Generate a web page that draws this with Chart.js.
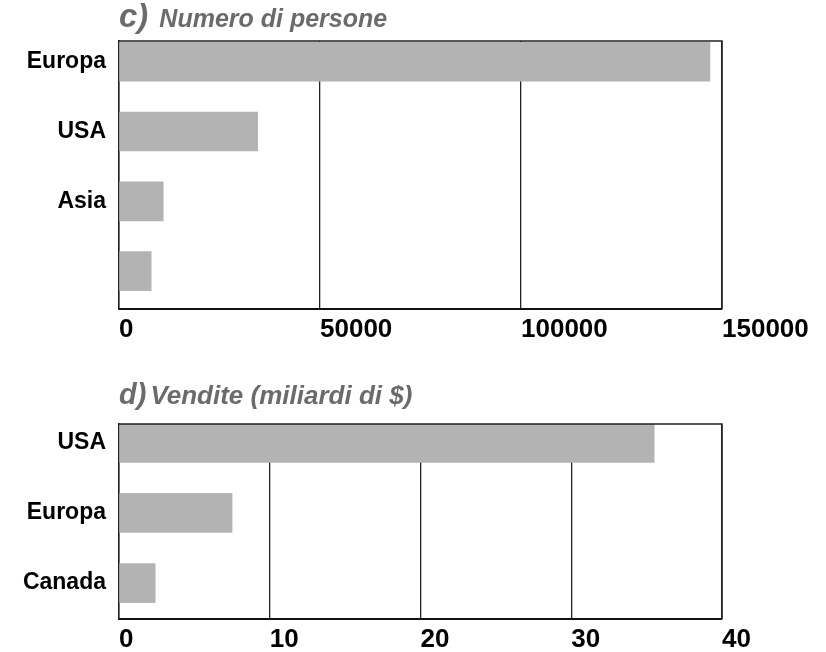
<!DOCTYPE html>
<html>
<head>
<meta charset="utf-8">
<script src="https://cdn.jsdelivr.net/npm/chart.js@4"></script>
<style>
  body { margin: 0; background: #fff; }
  #wrap { position: relative; width: 826px; height: 652px; overflow: hidden; }
  .box { position: absolute; left: 0; width: 826px; }
  .title {
    position: absolute; left: 119px; white-space: nowrap;
    font-family: "Liberation Sans", Arial, sans-serif;
    font-weight: bold; font-style: italic; color: #6b6b6b;
    font-size: 25px; line-height: 1;
  }
  .title .tag { font-size: 33px; margin-right: 11px; }
  .title.sales { font-size: 26px; }
  .title.sales .tag { font-size: 29px; margin-right: 4px; }
</style>
</head>
<body>
<div id="wrap">
  <div class="box" style="top:0;height:352px"><canvas id="chart-c"></canvas></div>
  <div class="box" style="top:352px;height:300px"><canvas id="chart-d"></canvas></div>
  <div class="title" style="top:-1px"><span class="tag">c)</span>Numero di persone</div>
  <div class="title sales" style="top:380px"><span class="tag">d)</span>Vendite (miliardi di $)</div>
</div>
<script>
// c) Numero di persone
const peopleRegions = ["Europa", "USA", "Asia", ""];
const peopleCounts = [147000, 34500, 11000, 8000];
const peopleTicks = [0, 50000, 100000, 150000];

// d) Vendite (miliardi di $)
const salesRegions = ["USA", "Europa", "Canada"];
const salesValues = [35.5, 7.5, 2.4];
const salesTicks = [0, 10, 20, 30, 40];

const BAR = "#b3b3b3";
const FONT = "'Liberation Sans', Arial, sans-serif";

// top and right edge of the box
const frame = {
  id: "frame",
  afterDatasetsDraw(chart) {
    const { ctx, chartArea: a } = chart;
    ctx.save();
    ctx.strokeStyle = "#222";
    ctx.lineWidth = 1.5;
    ctx.beginPath();
    ctx.moveTo(a.left, a.top);
    ctx.lineTo(a.right, a.top);
    ctx.lineTo(a.right, a.bottom);
    ctx.stroke();
    ctx.restore();
  }
};

function makeChart(id, labels, values, ticks, yMin, yMax, padTop, xHeight) {
  return new Chart(document.getElementById(id), {
    type: "bar",
    data: {
      datasets: [{
        data: values.map((v, i) => ({ x: v, y: i })),
        backgroundColor: BAR,
        barThickness: 39
      }]
    },
    options: {
      indexAxis: "y",
      responsive: true,
      maintainAspectRatio: false,
      animation: false,
      layout: { padding: { top: padTop, right: 104, bottom: 0, left: 0 } },
      plugins: { legend: { display: false }, tooltip: { enabled: false } },
      scales: {
        x: {
          type: "linear",
          min: ticks[0],
          max: ticks[ticks.length - 1],
          afterBuildTicks: s => { s.ticks = ticks.map(v => ({ value: v })); },
          afterFit: s => { s.height = xHeight; },
          ticks: {
            align: "start", padding: 5, color: "#000",
            font: { family: FONT, size: 26, weight: "bold" },
            callback: v => String(v)
          },
          grid: { color: "#222", lineWidth: 1.3, drawTicks: false },
          border: { color: "#111", width: 2 }
        },
        y: {
          type: "linear",
          offset: false,
          reverse: true,
          min: yMin,
          max: yMax,
          afterBuildTicks: s => { s.ticks = labels.map((_, i) => ({ value: i })); },
          afterFit: s => { s.width = 119; },
          ticks: {
            padding: 13, color: "#000",
            font: { family: FONT, size: 23, weight: "bold" },
            callback: v => labels[v]
          },
          grid: { display: false, drawTicks: false },
          border: { color: "#222", width: 1.5 }
        }
      }
    },
    plugins: [frame]
  });
}

makeChart("chart-c", peopleRegions, peopleCounts, peopleTicks, -0.297, 3.543, 41, 43);
makeChart("chart-d", salesRegions, salesValues, salesTicks, -0.268, 2.512, 72, 33);
</script>
</body>
</html>
